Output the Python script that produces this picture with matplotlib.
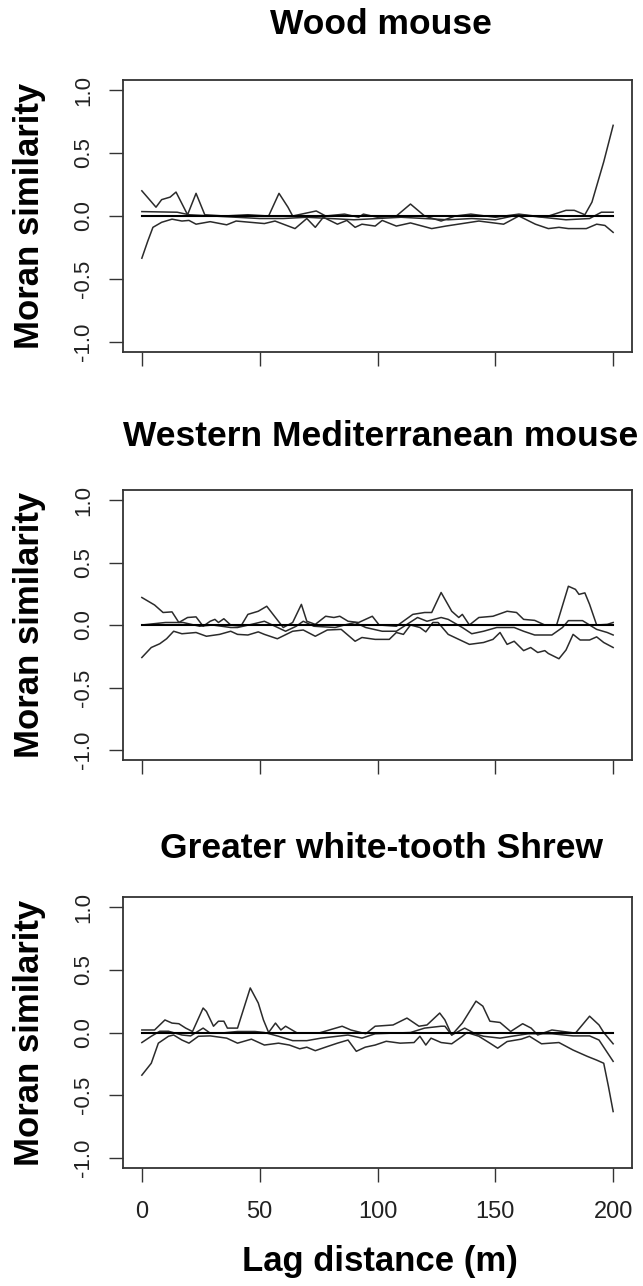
import numpy as np
import matplotlib
matplotlib.use('Agg')
import matplotlib.pyplot as plt

plt.rcParams['font.family'] = ['Liberation Sans', 'DejaVu Sans']

species = ['Wood mouse', 'Western Mediterranean mouse', 'Greater white-tooth Shrew']
x_ticks = [0, 50, 100, 150, 200]
y_ticks = [-1.0, -0.5, 0.0, 0.5, 1.0]
y_tick_labels = ['-1.0', '-0.5', '0.0', '0.5', '1.0']

# Wood mouse
wm_upper_lag = [0, 6, 8.4, 12, 14.5, 19.4, 23, 26.7, 35, 45, 53.8, 58.2, 62, 64, 74, 78, 86, 92, 94,
                100, 108, 114, 120, 127, 133, 139.6, 150, 160, 171, 180, 183.5, 188, 191, 196, 200]
wm_upper = [0.20, 0.07, 0.13, 0.15, 0.19, 0.01, 0.18, 0.01, 0.0, 0.01, 0.0, 0.18, 0.07, 0.0, 0.04, 0.0,
            0.015, -0.01, 0.015, -0.01, 0.0, 0.095, 0.0, -0.04, 0.0, 0.015, -0.01, 0.015, -0.01, 0.045,
            0.045, 0.01, 0.11, 0.43, 0.72]
wm_mid_lag = [0, 15, 20, 30, 40, 50, 60, 70, 80, 90, 100, 110, 120, 130, 140, 150, 160, 170, 180, 190,
              195, 200]
wm_mid = [0.035, 0.03, 0.01, 0.0, -0.01, -0.02, -0.02, -0.01, -0.02, -0.03, -0.02, -0.01, -0.02, -0.03,
          -0.02, -0.03, 0.01, -0.01, -0.03, -0.02, 0.03, 0.03]
wm_lower_lag = [0, 2.5, 4.7, 8.4, 12.8, 17, 20, 23, 29, 36, 40, 52, 56.5, 65, 70, 73.6, 77, 83, 87,
                90.5, 93.4, 99, 102, 108, 114, 123, 129, 136, 143, 153.5, 160, 167, 172.5, 177, 181,
                188.6, 193, 196.5, 200]
wm_lower = [-0.335, -0.2, -0.09, -0.05, -0.025, -0.04, -0.035, -0.065, -0.045, -0.07, -0.04, -0.06,
            -0.04, -0.1, -0.02, -0.09, -0.01, -0.065, -0.035, -0.09, -0.065, -0.08, -0.035, -0.08,
            -0.055, -0.1, -0.08, -0.06, -0.04, -0.065, 0.0, -0.065, -0.1, -0.09, -0.1, -0.1, -0.065,
            -0.075, -0.13]

# Western Mediterranean mouse
wmm_upper_lag = [0, 5.4, 9, 12.8, 15.7, 19.4, 23, 26, 29, 31, 32.5, 34.8, 37.7, 42, 45, 49.4, 53, 56.7,
                 60, 64, 67.7, 70, 73.6, 78, 81.5, 84, 87.5, 92, 97.8, 100.7, 108, 115, 120, 123, 127,
                 131.5, 134.5, 136, 139, 143, 149, 155, 159, 162, 166.7, 171, 176, 181, 184, 185.5,
                 188, 190, 193, 197.5, 200]
wmm_upper = [0.22, 0.16, 0.10, 0.105, 0.02, 0.06, 0.065, -0.01, 0.03, 0.045, 0.02, 0.05, 0.0, -0.01,
             0.085, 0.11, 0.15, 0.06, -0.02, 0.02, 0.165, 0.03, 0.005, 0.07, 0.06, 0.07, 0.03, 0.02,
             0.07, 0.0, -0.01, 0.085, 0.10, 0.10, 0.26, 0.11, 0.06, 0.085, 0.0, 0.06, 0.07, 0.11, 0.10,
             0.045, 0.037, 0.0, 0.0, 0.31, 0.285, 0.245, 0.257, 0.165, 0.0, 0.005, 0.02]
wmm_mid_lag = [0, 10, 17.5, 24.5, 30, 37.7, 40.6, 46.5, 52, 56.5, 61, 65.5, 68.5, 73, 82, 86, 90.5, 95,
               102, 108, 112.5, 117, 121, 127, 130, 136, 140, 145, 150.6, 158, 162, 166.7, 174, 178.5,
               181, 187, 193, 197.5, 200]
wmm_mid = [0.0, 0.02, 0.02, -0.01, 0.0, -0.02, -0.02, 0.005, 0.03, -0.01, -0.05, -0.01, 0.03, -0.01,
           -0.02, 0.0, 0.02, -0.02, -0.05, -0.05, 0.005, 0.06, 0.03, 0.06, 0.045, -0.02, -0.07, -0.05,
           -0.02, -0.02, -0.05, -0.08, -0.08, -0.02, 0.035, 0.035, -0.035, -0.06, -0.08]
wmm_lower_lag = [0, 4, 7.6, 10.5, 13.5, 17, 23, 27.4, 33, 37.7, 40.6, 45, 49.4, 52, 57.5, 64, 68.5,
                 73.6, 78.7, 84.6, 90.5, 93.4, 99, 105, 108, 111, 114, 118, 120.5, 123.5, 125.7, 130,
                 134.5, 139, 145, 149, 152, 155, 158, 162, 165, 168, 171, 172.5, 177, 180, 183, 186,
                 190, 193, 196, 200]
wmm_lower = [-0.26, -0.18, -0.15, -0.11, -0.05, -0.07, -0.06, -0.09, -0.075, -0.05, -0.075, -0.08,
             -0.055, -0.075, -0.11, -0.05, -0.04, -0.09, -0.04, -0.035, -0.13, -0.1, -0.115, -0.115,
             -0.06, -0.075, 0.0, -0.02, -0.055, 0.02, 0.02, -0.075, -0.115, -0.155, -0.14, -0.115,
             -0.06, -0.155, -0.13, -0.205, -0.18, -0.22, -0.205, -0.228, -0.27, -0.2, -0.075, -0.12,
             -0.12, -0.095, -0.14, -0.18]

# Greater white-tooth Shrew
gws_upper_lag = [0, 5.4, 9.8, 12.8, 15.7, 18.6, 21.5, 26, 27.4, 30.4, 32.5, 34.8, 36.3, 40.6, 46, 49.4,
                 51.6, 53.8, 56.7, 59, 61, 66, 75, 85, 88.7, 95, 99, 106.6, 112.5, 117.6, 121, 126.4,
                 128.6, 131.5, 136, 141.8, 144.7, 147.7, 152, 156.5, 161.6, 165.2, 168, 174, 184, 190,
                 194, 196, 200]
gws_upper = [0.02, 0.02, 0.10, 0.075, 0.07, 0.035, 0.008, 0.195, 0.168, 0.05, 0.09, 0.09, 0.035, 0.035,
             0.355, 0.235, 0.10, 0.0, 0.075, 0.02, 0.05, -0.005, -0.005, 0.05, 0.02, -0.01, 0.05, 0.06,
             0.115, 0.05, 0.06, 0.155, 0.10, -0.02, 0.075, 0.25, 0.21, 0.09, 0.08, 0.008, 0.07, 0.035,
             -0.02, 0.02, -0.005, 0.13, 0.06, 0.0, -0.09]
gws_mid_lag = [0, 4, 7.6, 11.3, 17, 20.7, 26, 29, 33.4, 40.6, 48, 52, 58, 64, 70, 76, 83, 87.5, 93.4, 99,
               106.6, 114, 120, 127, 128.6, 131.5, 137, 141.5, 145, 152, 158, 164, 174, 183, 190, 194,
               200]
gws_mid = [-0.08, -0.03, 0.01, 0.01, -0.02, -0.027, 0.035, -0.005, -0.005, 0.008, 0.008, 0.0, -0.03,
           -0.065, -0.065, -0.045, -0.03, -0.02, -0.045, -0.01, -0.005, 0.0, 0.035, 0.05, 0.05, -0.02,
           0.035, -0.01, -0.03, -0.045, -0.027, -0.01, -0.01, -0.027, -0.027, -0.06, -0.23]
gws_lower_lag = [0, 4, 7, 11.3, 13.5, 17, 20, 24, 29, 36, 40.6, 46.5, 52, 58, 62.6, 67, 70, 73.6, 78.7,
                 83, 87.5, 91, 94.8, 99, 103.7, 109.6, 115.5, 118, 120.5, 122.7, 127, 131.5, 136, 138,
                 143, 147.7, 151, 155, 161, 164.5, 169.6, 177, 183, 189, 193, 196, 198, 200]
gws_lower = [-0.34, -0.245, -0.085, -0.03, -0.02, -0.06, -0.085, -0.03, -0.027, -0.045, -0.085, -0.053,
             -0.1, -0.085, -0.1, -0.13, -0.117, -0.145, -0.112, -0.085, -0.06, -0.15, -0.117, -0.1,
             -0.07, -0.085, -0.08, -0.03, -0.1, -0.045, -0.08, -0.09, -0.03, 0.0, -0.03, -0.085, -0.125,
             -0.072, -0.053, -0.03, -0.09, -0.08, -0.14, -0.19, -0.22, -0.245, -0.43, -0.63]

curves = [
    [(wm_upper_lag, wm_upper), (wm_mid_lag, wm_mid), (wm_lower_lag, wm_lower)],
    [(wmm_upper_lag, wmm_upper), (wmm_mid_lag, wmm_mid), (wmm_lower_lag, wmm_lower)],
    [(gws_upper_lag, gws_upper), (gws_mid_lag, gws_mid), (gws_lower_lag, gws_lower)],
]

W, H = 643, 1286
fig = plt.figure(figsize=(W / 100, H / 100), dpi=100)

# axes boxes in pixels: (top, bottom)
left_px, right_px = 123, 632
boxes = [(80, 352), (490, 760), (897, 1168)]
title_y = [25, 437, 848]
title_x = 381

line_col = '#2b2b2b'
for i, (name, (top, bot)) in enumerate(zip(species, boxes)):
    ax = fig.add_axes([left_px / W, 1 - bot / H, (right_px - left_px) / W, (bot - top) / H])
    ax.axhline(0, xmin=8 / 216, xmax=208 / 216, color='black', lw=1.5, zorder=3)
    for lag, val in curves[i]:
        ax.plot(lag, val, color=line_col, lw=1.1, zorder=2)
    ax.set_xlim(-8, 208)
    ax.set_ylim(-1.08, 1.08)
    ax.set_xticks(x_ticks)
    ax.set_yticks(y_ticks)
    ax.set_yticklabels(y_tick_labels, rotation=90, va='center', fontsize=16, color='#222222')
    if i == 2:
        ax.set_xticklabels([str(t) for t in x_ticks], fontsize=17, color='#222222')
    else:
        ax.set_xticklabels([])
    ax.tick_params(axis='both', direction='out', length=10, width=1.0, color='#333333')
    ax.tick_params(axis='x', pad=14)
    ax.tick_params(axis='y', pad=11)
    for sp in ax.spines.values():
        sp.set_linewidth(1.3)
        sp.set_color('#333333')
    fig.text(title_x / W, 1 - title_y[i] / H, name, ha='center', va='center',
             fontsize=25.5, fontweight='bold')
    fig.text(30 / W, 1 - (top + bot) / 2 / H, 'Moran similarity', rotation=90, ha='center',
             va='center', fontsize=25, fontweight='bold')

fig.text(380 / W, 1 - 1262 / H, 'Lag distance (m)', ha='center', va='center',
         fontsize=25, fontweight='bold')

fig.savefig('out.png', dpi=100)
